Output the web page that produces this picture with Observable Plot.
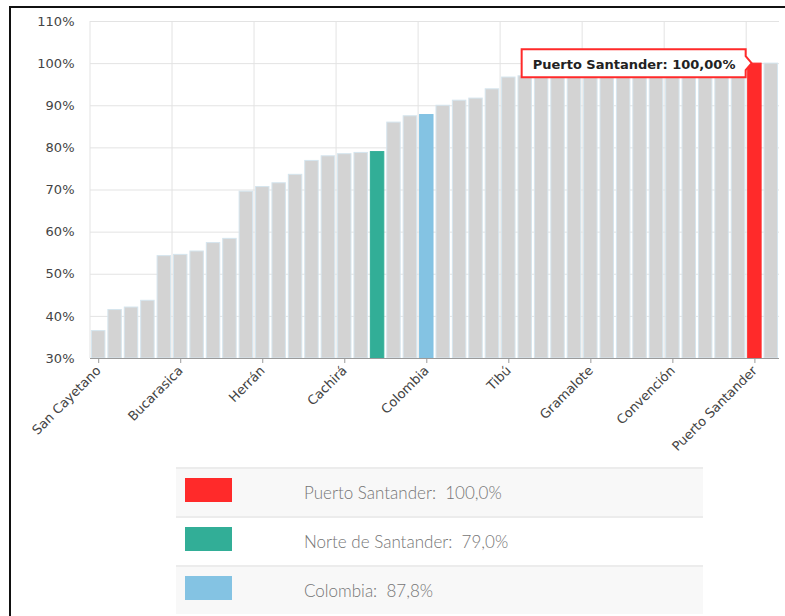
<!DOCTYPE html>
<html><head><meta charset="utf-8">
<script src="https://cdn.jsdelivr.net/npm/d3@7"></script>
<script src="https://cdn.jsdelivr.net/npm/@observablehq/plot@0.6"></script>
<style>
body{margin:0;background:#fff;width:785px;height:616px;overflow:hidden;position:relative;}
#chart{position:absolute;left:0;top:0;}
#frame{position:absolute;left:9px;top:6px;width:776px;height:610px;border-left:2px solid #111;border-top:2px solid #111;pointer-events:none}
#legend{position:absolute;left:176px;top:467px;width:527px;font-family:Lato,"Open Sans",sans-serif;font-weight:300;color:#757575;font-size:17px}
.row{height:47px;border-top:2px solid #ececec;position:relative}
.sw{position:absolute;left:9px;top:9px;width:47px;height:24px}
.lt{position:absolute;left:128px;top:0;line-height:47px;white-space:pre}
</style></head><body>
<div id="chart"></div>
<div id="legend"></div>
<div id="frame"></div>
<script>
const municipios = ["San Cayetano","Hacarí","El Carmen","San Calixto","Teorama","Bucarasica","El Tarra","La Playa","Cucutilla","Santiago","Herrán","Sardinata","Villa Caro","Arboledas","Lourdes","Cachirá","Salazar","Norte de Santander","Toledo","Labateca","Colombia","Chitagá","Ábrego","Durania","Bochalema","Tibú","Mutiscua","Silos","Cácota","La Esperanza","Gramalote","Pamplonita","Ragonvalia","Chinácota","El Zulia","Convención","Ocaña","Villa del Rosario","Pamplona","Los Patios","Puerto Santander","Cúcuta"];
const coberturas = [36.5,41.5,42.1,43.7,54.3,54.6,55.4,57.4,58.4,69.6,70.7,71.6,73.6,76.9,78.0,78.5,78.8,79.0,86.0,87.5,87.8,90.0,91.2,91.7,93.9,96.7,97.0,97.2,97.4,97.7,97.9,98.2,98.4,98.7,98.9,99.1,99.3,99.5,99.7,99.9,100,100];
const ticksX = ["San Cayetano","Bucarasica","Herrán","Cachirá","Colombia","Tibú","Gramalote","Convención","Puerto Santander"];
const ticksY = [30,40,50,60,70,80,90,100,110];
const destacados = ["Puerto Santander","Norte de Santander","Colombia"];
const coloresDestacados = ["#ff2a2a","#32ae97","#84c3e3"];
const leyendaEtiquetas = ["Puerto Santander:","Norte de Santander:","Colombia:"];
const leyendaValores = ["100,0%","79,0%","87,8%"];
const tooltipNombre = "Puerto Santander";
const tooltipValor = 100;
const tooltipTexto = "Puerto Santander: 100,00%";

const datos = municipios.map((m, i) => ({name: m, value: coberturas[i]}));
const colorDe = n => { const k = destacados.indexOf(n); return k >= 0 ? coloresDestacados[k] : "#d3d3d3"; };
const padIn = 0.18;

const vgrid = (index, {x, y}) => {
  const step = x(municipios[1]) - x(municipios[0]);
  const g = d3.create("svg:g").attr("stroke", "#e3e3e3");
  ticksX.forEach(t => {
    const xi = x(t) - padIn * step / 2;
    g.append("line").attr("x1", xi).attr("x2", xi).attr("y1", y(110)).attr("y2", y(30));
  });
  return g.node();
};

const tooltip = (index, {x, y}) => {
  const bx = x(tooltipNombre);
  const y0 = y(tooltipValor);
  const right = bx - 2, tip = bx + 4, left = right - 224, top = y0 - 14, bottom = y0 + 14;
  const g = d3.create("svg:g");
  g.append("path")
    .attr("d", `M${left},${top}H${right}V${y0-7}L${tip},${y0}L${right},${y0+7}V${bottom}H${left}Z`)
    .attr("fill", "#fff").attr("stroke", "#ff2a2a").attr("stroke-width", 2).attr("stroke-linejoin", "miter");
  g.append("text").attr("x", left + 11).attr("y", y0 + 1).attr("dy", "0.35em")
    .attr("text-anchor", "start")
    .attr("font-weight", "bold").attr("font-size", 13).attr("fill", "#222").text(tooltipTexto);
  return g.node();
};

const chart = Plot.plot({
  width: 785, height: 460,
  marginLeft: 90, marginRight: 6, marginTop: 21, marginBottom: 102,
  style: {fontFamily: "'DejaVu Sans', Verdana, sans-serif", fontSize: "12px", background: "transparent", color: "#444"},
  x: {domain: municipios, paddingInner: padIn, paddingOuter: padIn / 2, round: false, label: null},
  y: {domain: [30, 110], label: null},
  marks: [
    Plot.gridY(ticksY, {stroke: "#e3e3e3", strokeOpacity: 1}),
    vgrid,
    Plot.barY(datos, {x: "name", y1: 30, y2: "value", fill: d => colorDe(d.name), stroke: d => destacados.includes(d.name) ? colorDe(d.name) : "#d5e5ee", strokeWidth: 1}),
    Plot.ruleY([30], {stroke: "#9a9a9a"}),
    Plot.axisY(ticksY, {tickSize: 0, tickPadding: 16, tickFormat: d => d + "%", fontSize: 13, fill: "#444"}),
    Plot.axisX(ticksX, {tickSize: 5, tickPadding: 5, tickRotate: -45, stroke: "#9a9a9a", fill: "#444", fontSize: 13}),
    tooltip
  ]
});
document.getElementById("chart").appendChild(chart);

const leg = d3.select("#legend");
leyendaEtiquetas.forEach((t, i) => {
  const row = leg.append("div").attr("class", "row").style("background", i % 2 === 0 ? "#f8f8f8" : "#fff");
  row.append("div").attr("class", "sw").style("background", coloresDestacados[i]);
  row.append("div").attr("class", "lt").text(t + "  " + leyendaValores[i]);
});
</script>
</body></html>
